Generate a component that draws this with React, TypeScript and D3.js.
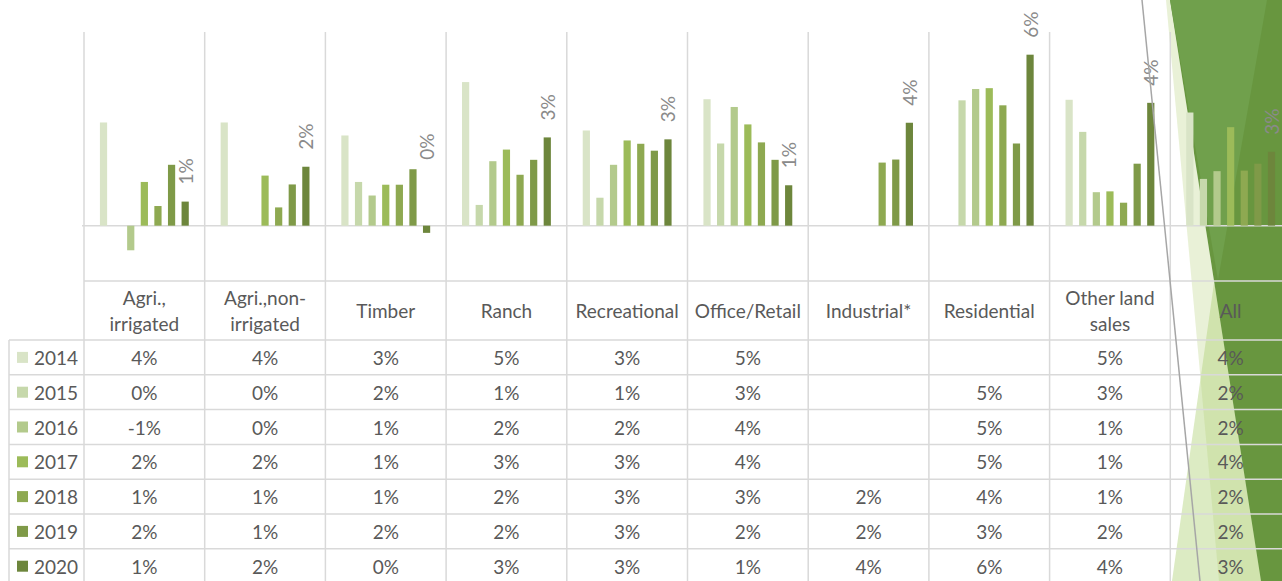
import React from 'react';
import * as d3 from 'd3';

// header lines of each category (as shown in the data table)
const categoryLines = [
  ['Agri.,', 'irrigated'],
  ['Agri.,non-', 'irrigated'],
  ['Timber'],
  ['Ranch'],
  ['Recreational'],
  ['Office/Retail'],
  ['Industrial*'],
  ['Residential'],
  ['Other land', 'sales'],
  ['All'],
];
const categories = categoryLines.map(l => l.join(' '));

const years = ['2014', '2015', '2016', '2017', '2018', '2019', '2020'];

// percent change, one value per category (null = no data)
const v2014 = [3.73, 3.73, 3.26, 5.19, 3.44, 4.57, null, null, 4.55, 4.09];
const v2015 = [0, 0, 1.58, 0.75, 1.01, 2.97, null, 4.53, 3.39, 1.69];
const v2016 = [-0.89, 0, 1.09, 2.33, 2.2, 4.29, null, 4.94, 1.21, 1.97];
const v2017 = [1.58, 1.81, 1.48, 2.75, 3.08, 3.66, null, 4.97, 1.24, 3.56];
const v2018 = [0.71, 0.66, 1.48, 1.84, 2.96, 3.01, 2.28, 4.35, 0.83, 1.99];
const v2019 = [2.2, 1.49, 2.04, 2.38, 2.71, 2.38, 2.39, 2.97, 2.24, 2.24];
const v2020 = [0.87, 2.13, -0.26, 3.19, 3.12, 1.46, 3.72, 6.18, 4.44, 2.67];
const series = [v2014, v2015, v2016, v2017, v2018, v2019, v2020];

const colors = ['#d9e4c7', '#c6d8ab', '#b3ca8c', '#9cbb59', '#8ea951', '#7f9a48', '#6d863c'];

const W = 1282;
const H = 581;
const FONT = 'Lato, "Open Sans", sans-serif';
const GRID = '#d9d9d9';
const TEXT = '#595959';

const App = () => {
  const plotTop = 32;
  const plotBottom = 281;
  const tableTop = 340;
  const rowH = 34.8;
  const tableLeft = 9;
  const left = 84;
  const catW = 120.7;

  const x = d3.scaleBand().domain(categories).range([left, left + catW * categories.length]);
  const x1 = d3.scaleBand().domain(years).range([0, catW]).paddingInner(0.47).paddingOuter(1.17);
  const y = d3.scaleLinear().domain([-2, 7]).range([plotBottom, plotTop]);
  const rowY = d3.scaleBand().domain(years).range([tableTop, tableTop + rowH * years.length]);
  const tableBottom = tableTop + rowH * years.length;
  const fmt = (v: number | null) => (v == null ? '' : `${Math.round(v)}%`);

  const boundaries = d3.range(categories.length + 1).map(i => left + i * catW);

  return (
    <svg width={W} height={H} style={{ position: 'fixed', left: 0, top: 0, background: '#fff' }}
      fontFamily={FONT}>
      {/* decorative theme shapes on the right */}
      <polygon points="1214,283 1300,581 1172,581" fill="#dcebc3" />
      <polygon points="1166,0 1170,0 1261,581 1219,581" fill="#b5d27a" fillOpacity={0.3} />
      <polygon points="1170,0 1282,0 1282,581 1261,581" fill="#68963f" />
      <polygon points="1170,0 1267,0 1218,280" fill="#70a04c" />

      {/* gridlines */}
      {boundaries.map((bx, i) => (
        <line key={'v' + i} x1={bx} x2={bx} y1={plotTop} y2={tableBottom} stroke={GRID} strokeWidth={1.5} />
      ))}
      <line x1={tableLeft} x2={tableLeft} y1={tableTop} y2={tableBottom} stroke={GRID} strokeWidth={1.5} />
      <line x1={left - 2} x2={W} y1={y(0)} y2={y(0)} stroke={GRID} strokeWidth={1.5} />
      <line x1={left} x2={W} y1={plotBottom} y2={plotBottom} stroke={GRID} strokeWidth={1.5} />
      {years.map((yr, i) => (
        <line key={'h' + yr} x1={tableLeft} x2={W} y1={rowY(yr)} y2={rowY(yr)} stroke={GRID} strokeWidth={1.5} />
      ))}
      <line x1={tableLeft} x2={W} y1={tableBottom} y2={tableBottom} stroke={GRID} strokeWidth={1.5} />

      {/* bars */}
      {series.map((vals, si) => (
        <g key={years[si]} fill={colors[si]}>
          {vals.map((v, ci) => {
            if (v == null || v === 0) return null;
            const bx = (x(categories[ci]) as number) + (x1(years[si]) as number);
            return (
              <rect key={ci} x={bx} width={x1.bandwidth()} y={Math.min(y(v), y(0))}
                height={Math.abs(y(v) - y(0))} />
            );
          })}
        </g>
      ))}

      {/* data labels for the last series */}
      {v2020.map((v, ci) => {
        const cx = (x(categories[ci]) as number) + (x1('2020') as number) + x1.bandwidth() / 2;
        const ly = v >= 0 ? y(v) - 17 : y(0) - 66;
        return (
          <text key={'l' + ci} transform={`translate(${cx},${ly}) rotate(-90)`} dominantBaseline="central"
            fontSize={19} fill="#8a8a8a">
            {fmt(v)}
          </text>
        );
      })}

      {/* table header */}
      {categoryLines.map((lines, ci) => {
        const cx = (x(categories[ci]) as number) + catW / 2;
        const mid = (plotBottom + tableTop) / 2;
        return (
          <text key={'c' + ci} textAnchor="middle" fontSize={19} fill={TEXT}>
            {lines.map((ln, li) => (
              <tspan key={li} x={cx} y={mid + (li - (lines.length - 1) / 2) * 26} dominantBaseline="central">
                {ln}
              </tspan>
            ))}
          </text>
        );
      })}

      {/* table rows */}
      {years.map((yr, si) => {
        const cy = (rowY(yr) as number) + rowH / 2;
        return (
          <g key={'r' + yr}>
            <rect x={17} y={cy - 5.5} width={11} height={11} fill={colors[si]} />
            <text x={34} y={cy} dominantBaseline="central" fontSize={19} fill={TEXT}>{yr}</text>
            {series[si].map((v, ci) => (
              <text key={ci} x={(x(categories[ci]) as number) + catW / 2} y={cy} textAnchor="middle"
                dominantBaseline="central" fontSize={19} fill={TEXT}>
                {fmt(v)}
              </text>
            ))}
          </g>
        );
      })}

      {/* thin theme line */}
      <line x1={1142} y1={0} x2={1200} y2={H} stroke="#a6a6a6" strokeWidth={1.5} />
    </svg>
  );
};

export default App;
